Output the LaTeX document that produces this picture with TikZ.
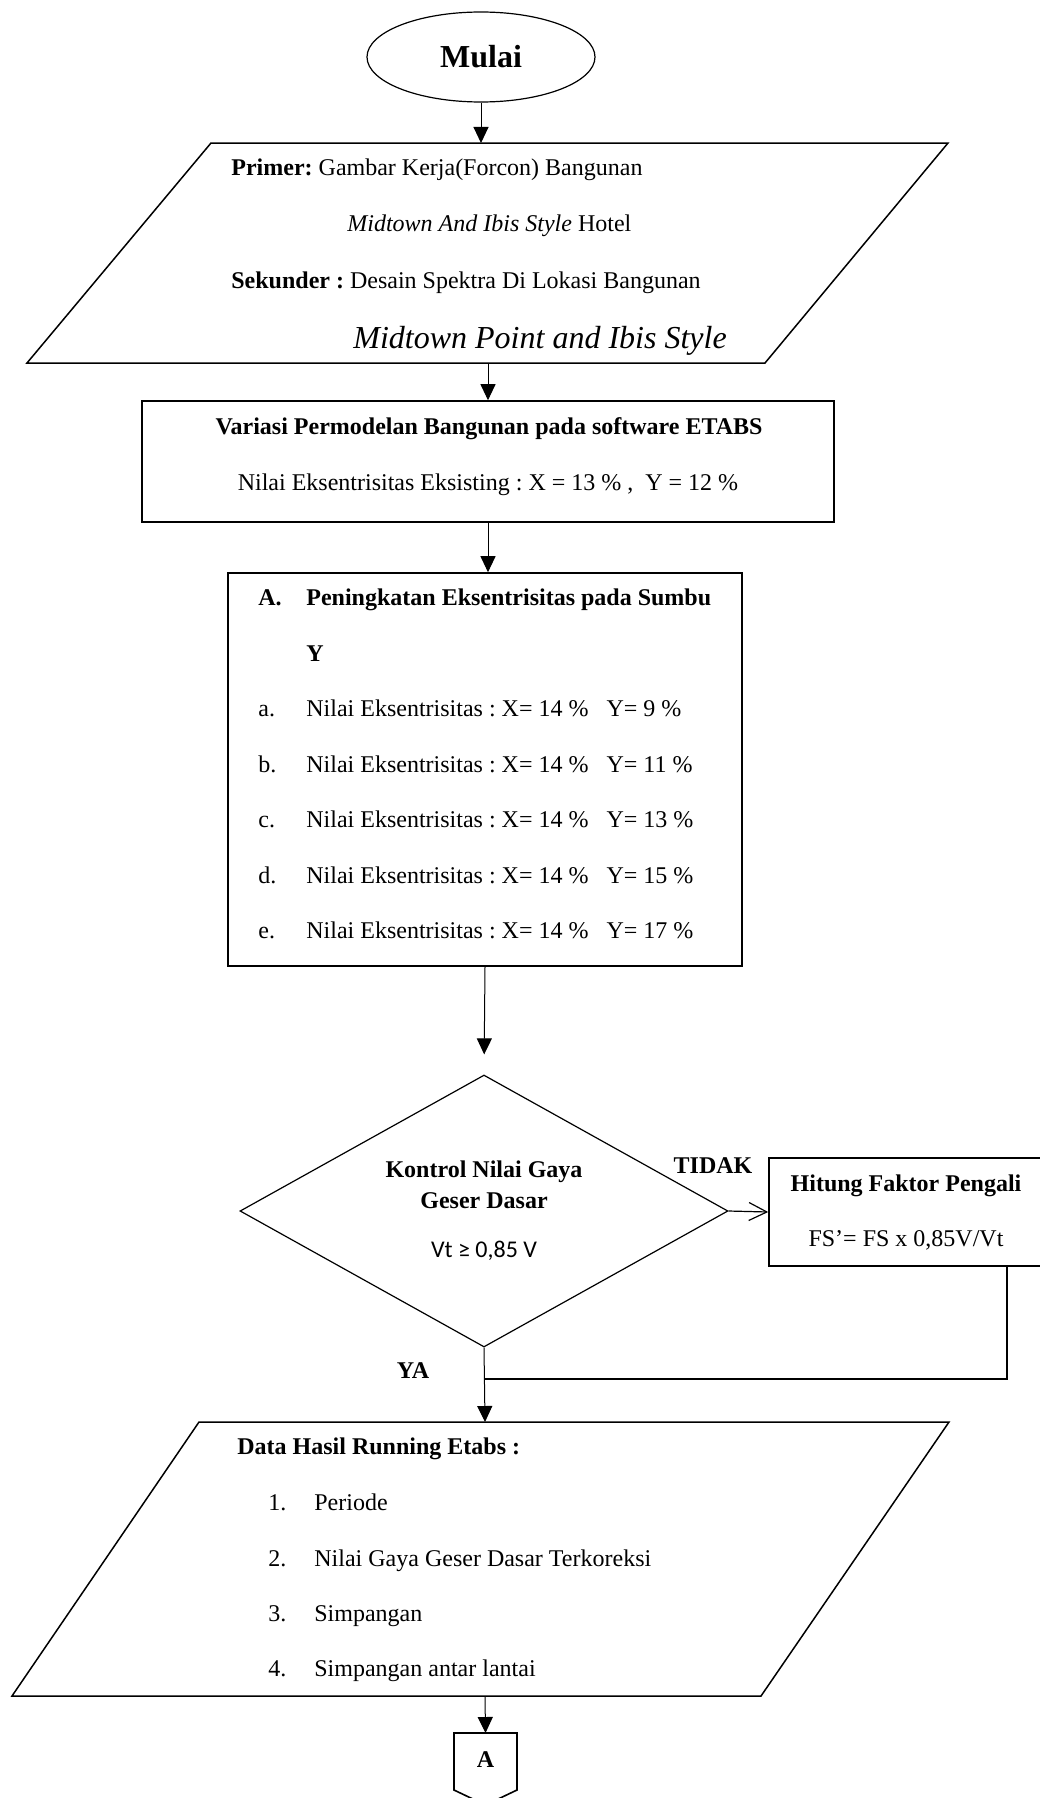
\documentclass[tikz,border=0pt]{standalone}
\usepackage{fontspec}
\setmainfont{Liberation Serif}
\newfontfamily\calib{Carlito}
\usetikzlibrary{arrows.meta,shapes.geometric}
\frenchspacing
\begin{document}
\begin{tikzpicture}[x=0.5pt,y=-0.5pt,
  txt/.style={font=\fontsize{12}{14}\selectfont\frenchspacing, inner sep=0pt},
  bigtxt/.style={font=\fontsize{16}{19}\selectfont\frenchspacing, inner sep=0pt},
  outl/.style={draw, line width=0.8pt},
  boxnode/.style={draw, line width=0.8pt, rectangle, inner sep=0pt},
  arr/.style={line width=0.5pt, -{Triangle[length=8pt,width=7.5pt]}},
  openarr/.style={line width=0.6pt, -{Straight Barb[length=9pt,width=9pt]}},
  fbline/.style={line width=1.1pt}]
\useasboundingbox (0,0) rectangle (1039,1798);

% Start
\node[draw, line width=0.6pt, ellipse, minimum width=114pt, minimum height=45pt, inner sep=0pt] (mulai) at (481,57) {};
\node[bigtxt, font=\fontsize{16}{19}\selectfont\bfseries, anchor=base] (mulaiT) at (481,68) {Mulai};

% Input parallelogram 1
\draw[outl, line width=0.75pt] (211,143) -- (948,143) -- (765,363) -- (27,363) -- cycle;
\coordinate (p1top) at (481,143);
\coordinate (p1bot) at (488,363);
\node[txt, anchor=base west] (prim) at (231,176) {\textbf{Primer:} Gambar Kerja(Forcon) Bangunan};
\node[txt, anchor=base west] (mid1) at (347,231) {\textit{Midtown And Ibis Style} Hotel};
\node[txt, anchor=base west] (sek) at (231,288) {\textbf{Sekunder :} Desain Spektra Di Lokasi Bangunan};
\node[bigtxt, anchor=base west] (mid2) at (353,348) {\textit{Midtown Point and Ibis Style}};

% Box 2
\node[boxnode, minimum width=346pt, minimum height=60.5pt] (box2) at (488,461.5) {};
\node[txt, anchor=base] (b2a) at (489,434) {\textbf{Variasi Permodelan Bangunan pada software ETABS}};
\node[txt, anchor=base] (b2b) at (488,490) {Nilai Eksentrisitas Eksisting : X = 13 \% ,\ \ Y = 12 \%};

% Box 3
\node[boxnode, minimum width=257pt, minimum height=196.5pt] (box3) at (485,769.5) {};
\node[txt, anchor=base west] (lA) at (258,605) {\textbf{A.}};
\node[txt, anchor=base west] (tA) at (306,605) {\textbf{Peningkatan Eksentrisitas pada Sumbu}};
\node[txt, anchor=base west] (tY) at (306,661) {\textbf{Y}};
\node[txt, anchor=base west] (la) at (258,716) {a.};
\node[txt, anchor=base west] (ta) at (306,716) {Nilai Eksentrisitas : X= 14 \%\hspace{9pt}Y= 9 \%};
\node[txt, anchor=base west] (lb) at (258,772) {b.};
\node[txt, anchor=base west] (tb) at (306,772) {Nilai Eksentrisitas : X= 14 \%\hspace{9pt}Y= 11 \%};
\node[txt, anchor=base west] (lc) at (258,827) {c.};
\node[txt, anchor=base west] (tc) at (306,827) {Nilai Eksentrisitas : X= 14 \%\hspace{9pt}Y= 13 \%};
\node[txt, anchor=base west] (ld) at (258,883) {d.};
\node[txt, anchor=base west] (td) at (306,883) {Nilai Eksentrisitas : X= 14 \%\hspace{9pt}Y= 15 \%};
\node[txt, anchor=base west] (le) at (258,938) {e.};
\node[txt, anchor=base west] (te) at (306,938) {Nilai Eksentrisitas : X= 14 \%\hspace{9pt}Y= 17 \%};

% Decision
\node[draw, line width=0.6pt, diamond, minimum width=244pt, minimum height=136pt, inner sep=0pt] (dia) at (484,1211) {};
\node[txt, anchor=base] (d1) at (484,1177) {\textbf{Kontrol Nilai Gaya}};
\node[txt, anchor=base] (d2) at (484,1208) {\textbf{Geser Dasar}};
\node[txt, font=\fontsize{12}{14}\selectfont\calib, anchor=base] (d3) at (484,1257) {Vt ≥ 0,85 V};

% Hitung box
\node[boxnode, minimum width=137pt, minimum height=54pt] (hit) at (906,1212) {};
\node[txt, anchor=base] (h1) at (906,1191) {\textbf{Hitung Faktor Pengali}};
\node[txt, anchor=base] (h2) at (906,1246) {FS’= FS x 0,85V/Vt};

\node[txt, anchor=base] (tidak) at (713,1173) {\textbf{TIDAK}};
\node[txt, anchor=base] (ya) at (413,1378) {\textbf{YA}};

% Output parallelogram 2
\draw[outl, line width=0.75pt] (199,1422) -- (949,1422) -- (761,1696) -- (12,1696) -- cycle;
\coordinate (p2top) at (485,1422);
\coordinate (p2bot) at (485,1696);
\node[txt, anchor=base west] (dh) at (237,1454) {\textbf{Data Hasil Running Etabs :}};
\node[txt, anchor=base west] (n1) at (268,1510) {1.};
\node[txt, anchor=base west] (r1) at (314,1510) {Periode};
\node[txt, anchor=base west] (n2) at (268,1566) {2.};
\node[txt, anchor=base west] (r2) at (314,1566) {Nilai Gaya Geser Dasar Terkoreksi};
\node[txt, anchor=base west] (n3) at (268,1621) {3.};
\node[txt, anchor=base west] (r3) at (314,1621) {Simpangan};
\node[txt, anchor=base west] (n4) at (268,1676) {4.};
\node[txt, anchor=base west] (r4) at (314,1676) {Simpangan antar lantai};

% Off-page connector
\draw[outl] (454,1733) -- (517,1733) -- (517,1790) -- (485.5,1805) -- (454,1790) -- cycle;
\coordinate (contop) at (485.5,1733);
\node[txt, anchor=base] (conA) at (485.5,1767) {\textbf{A}};

% Connectors
\draw[arr] (mulai.south) -- (p1top);
\draw[arr] (p1bot) -- (p1bot |- box2.north);
\draw[arr] (box2.south) -- (box2.south |- box3.north);
\draw[arr, shorten >=10pt] (box3.south) -- (dia.north);
\draw[openarr] (dia.east) -- (hit.west);
\coordinate (fb) at (1007,1379);
\draw[fbline] (hit.south -| fb) -- (fb) -- (fb -| dia.south);
\draw[arr] (dia.south) -- (p2top);
\draw[arr] (p2bot) -- (contop);
\end{tikzpicture}
\end{document}
